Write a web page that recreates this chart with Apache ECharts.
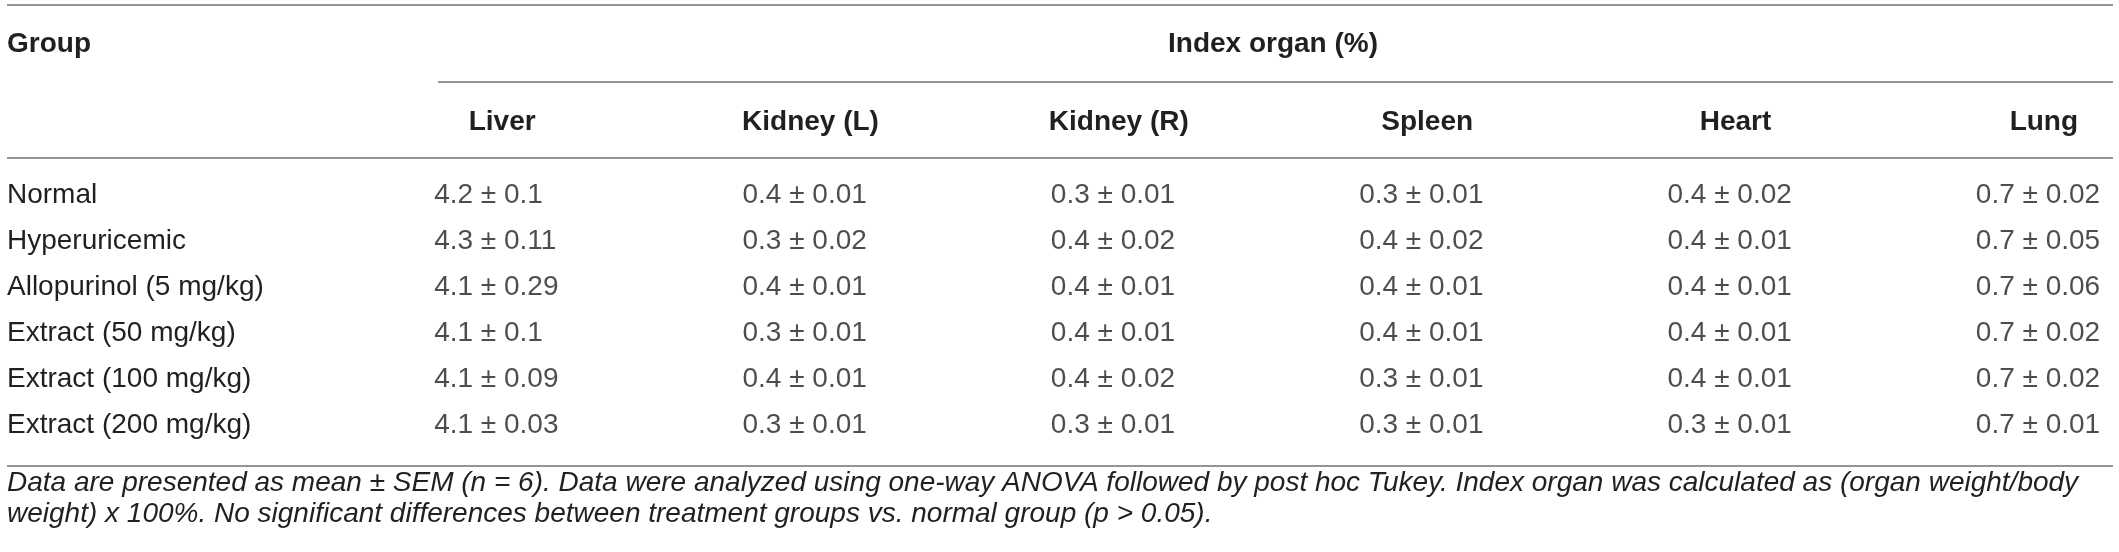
<!DOCTYPE html>
<html>
<head>
<meta charset="utf-8">
<title>Index organ table</title>
<script src="https://cdn.jsdelivr.net/npm/echarts@6/dist/echarts.min.js"></script>
<style>
  html, body { margin: 0; padding: 0; background: #fff; }
  #chart-container { width: 2119px; height: 552px; }
</style>
</head>
<body>
<div id="chart-container"></div>
<script>
var groups = [
  "Normal",
  "Hyperuricemic",
  "Allopurinol (5 mg/kg)",
  "Extract (50 mg/kg)",
  "Extract (100 mg/kg)",
  "Extract (200 mg/kg)",
];
var organs = ["Liver", "Kidney (L)", "Kidney (R)", "Spleen", "Heart", "Lung"];

// mean and SEM per organ, one entry per group
var liverMean = [4.2, 4.3, 4.1, 4.1, 4.1, 4.1];
var liverSem = [0.1, 0.11, 0.29, 0.1, 0.09, 0.03];
var kidneyLMean = [0.4, 0.3, 0.4, 0.3, 0.4, 0.3];
var kidneyLSem = [0.01, 0.02, 0.01, 0.01, 0.01, 0.01];
var kidneyRMean = [0.3, 0.4, 0.4, 0.4, 0.4, 0.3];
var kidneyRSem = [0.01, 0.02, 0.01, 0.01, 0.02, 0.01];
var spleenMean = [0.3, 0.4, 0.4, 0.4, 0.3, 0.3];
var spleenSem = [0.01, 0.02, 0.01, 0.01, 0.01, 0.01];
var heartMean = [0.4, 0.4, 0.4, 0.4, 0.4, 0.3];
var heartSem = [0.02, 0.01, 0.01, 0.01, 0.01, 0.01];
var lungMean = [0.7, 0.7, 0.7, 0.7, 0.7, 0.7];
var lungSem = [0.02, 0.05, 0.06, 0.02, 0.02, 0.01];

var headerTitle = "Index organ (%)";
var groupTitle = "Group";
var footnote = [
  "Data are presented as mean \u00b1 SEM (n = 6). Data were analyzed using one-way ANOVA followed by post hoc Tukey. Index organ was calculated as (organ weight/body",
  "weight) x 100%. No significant differences between treatment groups vs. normal group (p > 0.05).",
];

var means = [liverMean, kidneyLMean, kidneyRMean, spleenMean, heartMean, lungMean];
var sems = [liverSem, kidneyLSem, kidneyRSem, spleenSem, heartSem, lungSem];

var font = "'Liberation Sans', Arial, Helvetica, sans-serif";
var ink = "#231f20";
var rule = "#707070";

var dom = document.getElementById("chart-container");
var myChart = echarts.init(dom, null, { renderer: "canvas" });

var series = organs.map(function (organ, c) {
  return {
    type: "scatter",
    name: organ,
    symbolSize: 0,
    silent: true,
    data: groups.map(function (g, r) {
      return [organ, g, means[c][r], sems[c][r]];
    }),
    label: {
      show: true,
      position: "inside",
      align: "left",
      verticalAlign: "middle",
      offset: [-68, 0],
      fontFamily: font,
      fontSize: 28,
      color: ink,
      formatter: function (p) {
        return p.value[2] + " \u00b1 " + p.value[3];
      },
    },
  };
});

function hline(x1, x2, y) {
  return {
    type: "line",
    silent: true,
    shape: { x1: x1, y1: y, x2: x2, y2: y },
    style: { stroke: rule, lineWidth: 1.5 },
  };
}

var option = {
  backgroundColor: "#fff",
  animation: false,
  grid: {
    left: 348,
    top: 172,
    width: 1850,
    height: 276,
    containLabel: false,
    outerBoundsMode: "none",
  },
  xAxis: {
    type: "category",
    position: "top",
    data: organs,
    name: headerTitle,
    nameLocation: "middle",
    nameGap: 128,
    nameTextStyle: {
      fontFamily: font,
      fontSize: 28,
      fontWeight: "bold",
      color: ink,
      verticalAlign: "middle",
    },
    axisLine: { show: false },
    axisTick: { show: false },
    splitLine: { show: false },
    axisLabel: {
      margin: 50,
      verticalAlign: "middle",
      fontFamily: font,
      fontSize: 28,
      fontWeight: "bold",
      color: ink,
    },
  },
  yAxis: {
    type: "category",
    inverse: true,
    data: groups,
    axisLine: { show: false },
    axisTick: { show: false },
    splitLine: { show: false },
    axisLabel: {
      align: "left",
      margin: 341,
      fontFamily: font,
      fontSize: 28,
      color: ink,
    },
  },
  series: series,
  graphic: [
    hline(7, 2113, 5),
    hline(438, 2113, 82),
    hline(7, 2113, 158),
    hline(7, 2113, 466),
    {
      type: "text",
      silent: true,
      x: 7,
      y: 44,
      style: {
        text: groupTitle,
        font: "bold 28px " + font,
        fill: ink,
        verticalAlign: "middle",
      },
    },
    {
      type: "text",
      silent: true,
      x: 7,
      y: 483,
      style: {
        text: footnote[0],
        font: "italic 28px " + font,
        fill: ink,
        verticalAlign: "middle",
      },
    },
    {
      type: "text",
      silent: true,
      x: 7,
      y: 514,
      style: {
        text: footnote[1],
        font: "italic 28px " + font,
        fill: ink,
        verticalAlign: "middle",
      },
    },
  ],
};

myChart.setOption(option);
window.addEventListener("resize", myChart.resize);
</script>
</body>
</html>
